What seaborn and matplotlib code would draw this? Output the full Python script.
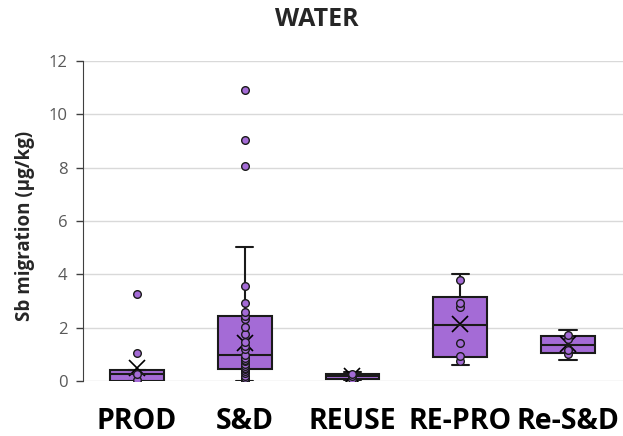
import pandas as pd
import numpy as np
import matplotlib
matplotlib.use("Agg")
import matplotlib.pyplot as plt
import seaborn as sns

# values
groups = ["PROD", "S&D", "REUSE", "RE-PRO", "Re-S&D"]
prod = [0.0, 0.0, 0.0, 0.02, 0.26, 0.41, 0.41, 1.06, 3.25]
sd = [0.0, 0.02, 0.05, 0.12, 0.2, 0.29, 0.36, 0.44, 0.5, 0.56, 0.65, 0.75, 0.8, 0.87,
      0.96, 1.19, 1.33, 1.47, 1.75, 2.03, 2.31, 2.43, 2.6, 2.91, 3.56, 5.03, 8.05, 9.05, 10.9]
reuse = [0.0, 0.09, 0.17, 0.25, 0.32]
repro = [0.61, 0.75, 0.95, 1.41, 2.77, 2.94, 3.78, 4.0]
resd = [0.79, 1.0, 1.16, 1.56, 1.72, 1.91]
means = [0.5, 1.43, 0.2, 2.13, 1.38]

purple = "#A46BD6"
edge = "#1a1a1a"

sns.set_style("white")
plt.rcParams["font.family"] = ["Open Sans", "DejaVu Sans"]

df = pd.DataFrame({
    "group": np.repeat(groups, [len(prod), len(sd), len(reuse), len(repro), len(resd)]),
    "value": prod + sd + reuse + repro + resd,
})

# inner points like excel: drop the whisker end values
shown = []
for g, sub in df.groupby("group", sort=False):
    v = sub["value"].to_numpy()
    q1, q3 = np.percentile(v, [25, 75])
    lo = v[v >= q1 - 1.5 * (q3 - q1)].min()
    hi = v[v <= q3 + 1.5 * (q3 - q1)].max()
    shown.append(sub[(sub["value"] > lo) & (sub["value"] < hi) | (sub["value"] > hi)])
shown = pd.concat(shown)

fig = plt.figure(figsize=(6.23, 4.36), dpi=100)
ax = fig.add_axes([83 / 623, 55 / 436, 540 / 623, 320 / 436])

sns.boxplot(data=df, x="group", y="value", order=groups, color=purple, width=0.5,
            linecolor=edge, linewidth=1.5, showfliers=False, whis=1.5,
            capwidths=0.16, saturation=1, ax=ax)
sns.stripplot(data=shown, x="group", y="value", order=groups, jitter=False,
              color=purple, edgecolor=edge, linewidth=1, size=5.5, ax=ax, zorder=3)
sns.pointplot(x=groups, y=means, order=groups, linestyle="none", marker="x",
              color="black", markersize=11, markeredgewidth=1.2, errorbar=None, ax=ax)

ax.set_ylim(0, 12)
ax.set_xlim(-0.5, 4.51)
ax.set_yticks(range(0, 13, 2))
ax.yaxis.grid(True, color="#d9d9d9", linewidth=1)
ax.set_axisbelow(True)
for s in ["top", "right", "bottom"]:
    ax.spines[s].set_visible(False)
ax.spines["left"].set_color("#404040")
ax.tick_params(axis="y", length=5, width=1, color="#404040", labelcolor="#595959",
               labelsize=12, left=True, pad=6)
ax.tick_params(axis="x", length=0, pad=19)
for lab in ax.get_xticklabels():
    lab.set_fontsize(20.5)
    lab.set_fontweight("bold")
    lab.set_color("black")

ax.set_xlabel("")
ax.set_ylabel("Sb migration (µg/kg)", fontsize=13.5, fontweight="bold")
ax.yaxis.set_label_coords(-0.088, 0.484)

fig.text(0.508, 0.956, "WATER", ha="center", va="center", fontsize=18, fontweight="bold")

plt.savefig("out.png", dpi=100)
